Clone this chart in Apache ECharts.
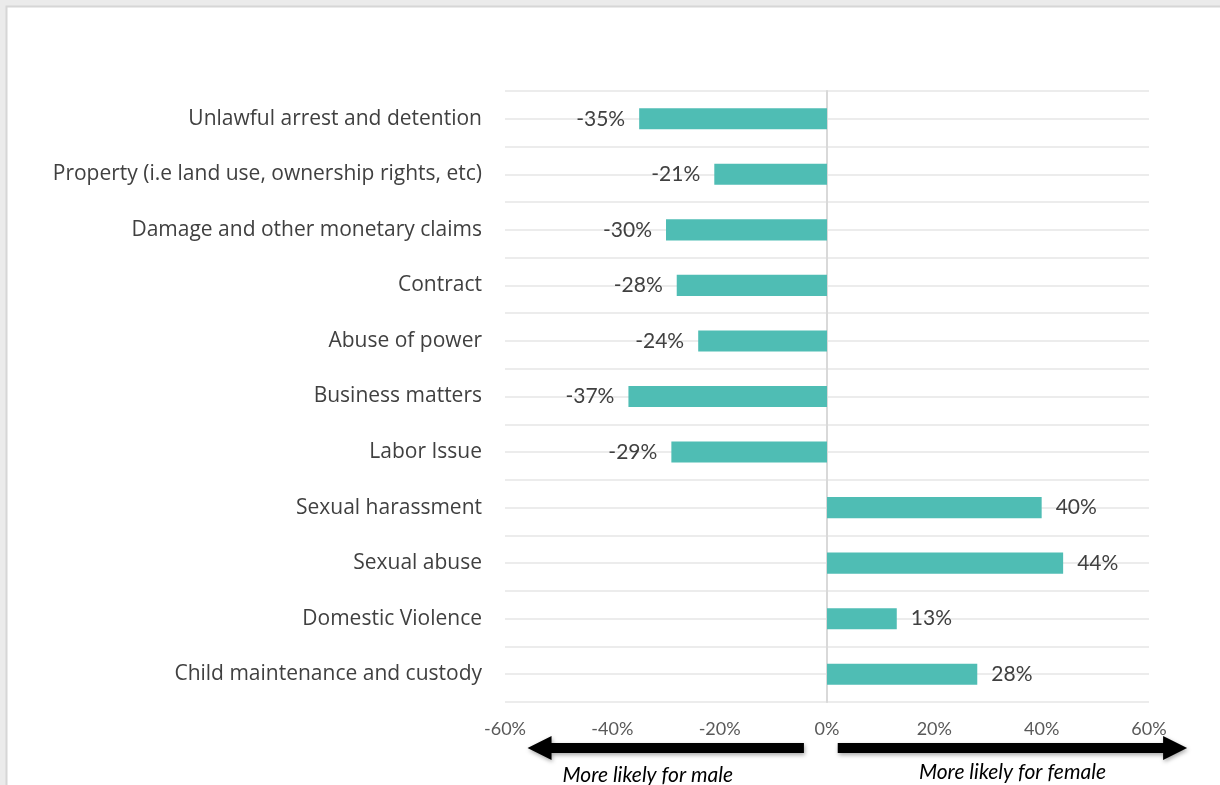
<!DOCTYPE html>
<html>
<head>
<meta charset="utf-8">
<script src="https://cdn.jsdelivr.net/npm/echarts@6/dist/echarts.min.js"></script>
<style>
  html, body { margin: 0; padding: 0; background: #ebebeb; }
  #chart { width: 1220px; height: 785px; }
</style>
</head>
<body>
<div id="chart"></div>
<script>
// Case types, top to bottom
const categories = [
  'Unlawful arrest and detention',
  'Property (i.e land use, ownership rights, etc)',
  'Damage and other monetary claims',
  'Contract',
  'Abuse of power',
  'Business matters',
  'Labor Issue',
  'Sexual harassment',
  'Sexual abuse',
  'Domestic Violence',
  'Child maintenance and custody'
];
// Gender gap in percent (negative = more likely for male)
const gapValues = [-35, -21, -30, -28, -24, -37, -29, 40, 44, 13, 28];
// Value axis ticks
const axisMin = -60;
const axisMax = 60;
const axisStep = 20;
const maleNote = 'More likely for male';
const femaleNote = 'More likely for female';

const FONT = 'Lato, "Noto Sans", sans-serif';
const CAT_FONT = '"Open Sans", "Noto Sans", sans-serif';
const chart = echarts.init(document.getElementById('chart'));

const seriesData = gapValues.map(v => ({
  value: v,
  label: { position: v < 0 ? 'left' : 'right' }
}));

chart.setOption({
  animation: false,
  textStyle: { fontFamily: FONT },
  grid: { left: 505, right: 71, top: 91, bottom: 83 },
  xAxis: {
    type: 'value',
    min: axisMin, max: axisMax, interval: axisStep,
    axisLine: { show: false },
    axisTick: { show: false },
    splitLine: { show: false },
    axisLabel: {
      formatter: '{value}%',
      color: '#595959', fontSize: 18, fontFamily: FONT, margin: 18
    }
  },
  yAxis: [{
    type: 'category',
    data: categories,
    inverse: true,
    axisLine: { show: true, onZero: true, lineStyle: { color: '#d9d9d9', width: 2 } },
    axisTick: { show: false },
    splitLine: { show: false },
    axisLabel: { color: '#404040', fontSize: 21, fontFamily: CAT_FONT, margin: 23 }
  }, {
    // half-row guide lines behind the bars
    type: 'value',
    min: 0, max: categories.length * 2, interval: 1,
    position: 'right',
    axisLine: { show: false },
    axisTick: { show: false },
    axisLabel: { show: false },
    splitLine: { show: true, lineStyle: { color: '#ececec', width: 2 } }
  }],
  series: [{
    type: 'bar',
    data: seriesData,
    barWidth: '38%',
    itemStyle: { color: '#4fbdb4' },
    label: {
      show: true,
      formatter: p => p.value + '%',
      color: '#404040', fontSize: 21, fontFamily: FONT, distance: 14
    },
    z: 3
  }]
});

// Frame and direction arrows, anchored to the value axis
function arrowPoints(x0, x1, y, shaft, headLen, headHalf) {
  const dir = x1 > x0 ? 1 : -1;
  const hb = x1 - dir * headLen;
  return [
    [x0, y - shaft / 2], [hb, y - shaft / 2], [hb, y - headHalf],
    [x1, y], [hb, y + headHalf], [hb, y + shaft / 2], [x0, y + shaft / 2]
  ];
}
const px = v => chart.convertToPixel({ xAxisIndex: 0 }, v);
const arrowY = 748;
const shadow = { shadowBlur: 4, shadowColor: 'rgba(0,0,0,0.35)', shadowOffsetX: 1, shadowOffsetY: 2 };
const leftFrom = px(-4.3), leftTo = px(-55.8);
const rightFrom = px(2), rightTo = px(67.1);

chart.setOption({
  graphic: [
    { type: 'rect', z: -10, silent: true, shape: { x: 6.5, y: 6.5, width: 1300, height: 900 },
      style: { fill: '#ffffff', stroke: '#d6d6d6', lineWidth: 2 } },
    { type: 'polygon', shape: { points: arrowPoints(leftFrom, leftTo, arrowY, 10, 24, 12) },
      style: Object.assign({ fill: '#000000' }, shadow) },
    { type: 'polygon', shape: { points: arrowPoints(rightFrom, rightTo, arrowY, 10, 24, 12) },
      style: Object.assign({ fill: '#000000' }, shadow) },
    { type: 'text', x: (leftFrom + leftTo) / 2 - 18, y: 775,
      style: { text: maleNote, fill: '#000000', font: 'italic 21px ' + FONT, textAlign: 'center', textVerticalAlign: 'middle' } },
    { type: 'text', x: (rightFrom + rightTo) / 2, y: 772,
      style: { text: femaleNote, fill: '#000000', font: 'italic 21px ' + FONT, textAlign: 'center', textVerticalAlign: 'middle' } }
  ]
});
</script>
</body>
</html>
